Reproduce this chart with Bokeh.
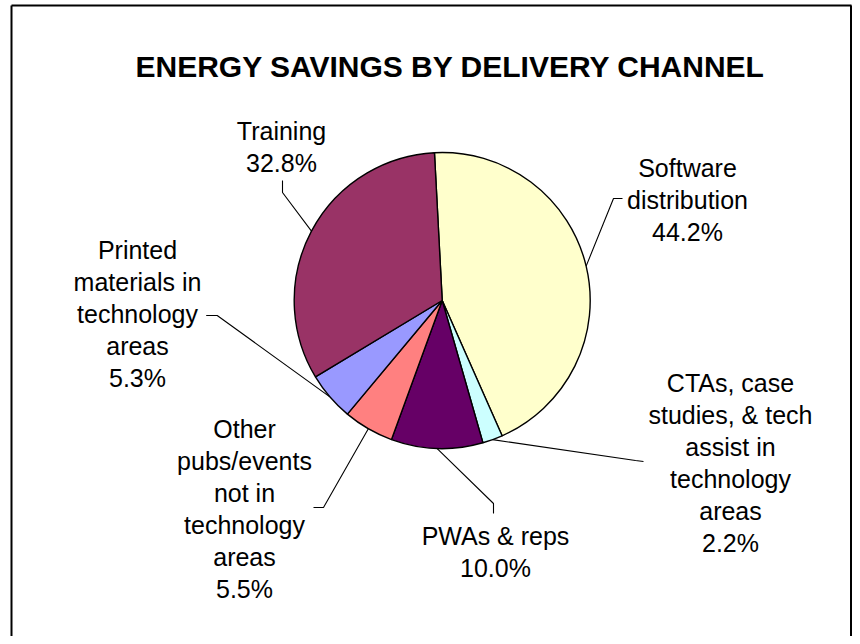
import math
from bokeh.plotting import figure
from bokeh.models import Range1d, ColumnDataSource
from bokeh.embed import file_html
from bokeh.resources import INLINE
from bokeh.core.properties import value

# ---------------- data ----------------
title_text = "ENERGY SAVINGS BY DELIVERY CHANNEL"
channels = [
    "Software\ndistribution",
    "CTAs, case\nstudies, & tech\nassist in\ntechnology\nareas",
    "PWAs & reps",
    "Other\npubs/events\nnot in\ntechnology\nareas",
    "Printed\nmaterials in\ntechnology\nareas",
    "Training",
]
shares = [44.2, 2.2, 10.0, 5.5, 5.3, 32.8]
colors = ["#FFFFCC", "#CCFFFF", "#660066", "#FF8080", "#9999FF", "#993366"]

# ---------------- layout (picture pixels) ----------------
W, H = 852, 636


def Y(py):
    return H - py


cx, cy, R = 441.7, 300.0, 148.0
first_angle = -3.0  # degrees clockwise from 12 o'clock

# label block centre (x, y) and leader stub (elbow, end) per slice
label_pos = [(687, 200), (730, 463), (495, 552), (244, 509), (137, 314.5), (281, 147.5)]
stub_elbow = [(613, 198), (635, 460), (493, 503), (323, 507), (216.7, 315), (282, 192)]
stub_end = [(622, 198), (643, 461), (493, 513), (313, 507), (205.7, 315), (282, 180)]

LINE_H = 32
TEXT_SHIFT = -1  # baseline offset from the visual line centre (renderer units)
FONT = "Liberation Sans"
LABEL_SIZE = "25px"

p = figure(width=W, height=H, output_backend="svg", toolbar_location=None,
           x_range=Range1d(0, W), y_range=Range1d(0, H),
           x_axis_type=None, y_axis_type=None, min_border=0,
           outline_line_color=None, background_fill_color="white",
           border_fill_color="white")
p.grid.visible = False

# chart border
p.segment(x0=[11, 11, 850.5], y0=[Y(5), Y(5), Y(5)],
          x1=[11, 851, 850.5], y1=[Y(H + 2), Y(5), Y(H + 2)],
          line_color="black", line_width=2)

# title
p.text(x=[450], y=[Y(66)], text=[title_text], text_font=value(FONT),
       text_font_size="30px", text_font_style="bold", text_align="center",
       text_baseline="alphabetic", text_color="black")

# wedges
total = sum(shares)
starts, ends, mids = [], [], []
cum = 0.0
for s in shares:
    a0 = first_angle + cum / total * 360.0
    cum += s
    a1 = first_angle + cum / total * 360.0
    starts.append(math.radians(90 - a0))
    ends.append(math.radians(90 - a1))
    mids.append((a0 + a1) / 2.0)

src = ColumnDataSource(dict(x=[cx] * len(shares), y=[Y(cy)] * len(shares),
                            start=starts, end=ends, color=colors))
p.wedge(x="x", y="y", radius=R, start_angle="start", end_angle="end",
        direction="clock", fill_color="color", line_color="black",
        line_width=1.4, source=src)

# leader lines
for i, m in enumerate(mids):
    ex = cx + R * math.sin(math.radians(m))
    ey = cy - R * math.cos(math.radians(m))
    xs = [ex, stub_elbow[i][0], stub_end[i][0]]
    ys = [Y(ey), Y(stub_elbow[i][1]), Y(stub_end[i][1])]
    p.line(xs, ys, line_color="black", line_width=1.1)

# labels
tx, ty, tt = [], [], []
for i, name in enumerate(channels):
    lines = name.split("\n") + [f"{shares[i]:.1f}%"]
    n = len(lines)
    lx, lyc = label_pos[i]
    for j, ln in enumerate(lines):
        center = lyc + (j - (n - 1) / 2.0) * LINE_H
        tx.append(lx)
        ty.append(Y(center + TEXT_SHIFT))
        tt.append(ln)
p.text(x=tx, y=ty, text=tt, text_font=value(FONT), text_font_size=LABEL_SIZE,
       text_align="center", text_baseline="alphabetic", text_color="black")

open("out.html", "w").write(file_html(p, INLINE))
